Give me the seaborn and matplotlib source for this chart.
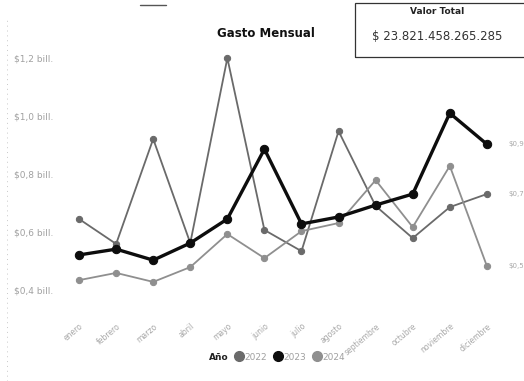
import matplotlib
matplotlib.use("Agg")
import matplotlib.pyplot as plt
from matplotlib.lines import Line2D
from matplotlib.patches import Rectangle
import seaborn as sns
import pandas as pd

# Monthly spend, in billones of pesos
meses = ["enero", "febrero", "marzo", "abril", "mayo", "junio", "julio",
         "agosto", "septiembre", "octubre", "noviembre", "diciembre"]
gasto_2022 = [0.645, 0.559, 0.921, 0.562, 1.200, 0.607, 0.534, 0.948, 0.690, 0.579, 0.686, 0.731]
gasto_2023 = [0.521, 0.541, 0.503, 0.562, 0.645, 0.886, 0.628, 0.652, 0.693, 0.731, 1.010, 0.903]
gasto_2024 = [0.434, 0.459, 0.428, 0.479, 0.593, 0.510, 0.603, 0.631, 0.779, 0.617, 0.828, 0.483]
anios = ["2022", "2023", "2024"]
y_ticks = [0.4, 0.6, 0.8, 1.0, 1.2]
valor_total = "$ 23.821.458.265.285"

series = {"2022": gasto_2022, "2023": gasto_2023, "2024": gasto_2024}
df = pd.DataFrame([
    {"mes": m, "idx": i, "año": a, "gasto": v}
    for a in anios for i, (m, v) in enumerate(zip(meses, series[a]))
])

sns.set_theme(style="white")
plt.rcParams["font.family"] = ["DejaVu Sans"]

colores = {"2022": "#6a6a6a", "2023": "#0d0d0d", "2024": "#8f8f8f"}
grosor = {"2022": 1.3, "2023": 2.4, "2024": 1.3}
marca = {"2022": 4.5, "2023": 6.0, "2024": 4.5}

fig = plt.figure(figsize=(5.24, 3.81), dpi=100)
ax = fig.add_axes([0.1155, 0.1627, 0.849, 0.799])

for a in anios:
    sub = df[df["año"] == a]
    sns.lineplot(data=sub, x="idx", y="gasto", ax=ax, color=colores[a],
                 linewidth=grosor[a], marker="o", markersize=marca[a],
                 markeredgecolor=colores[a], legend=False,
                 zorder=3 if a == "2023" else 2)
    ultimo = sub["gasto"].iloc[-1]
    ax.annotate(f"${ultimo:.1f}".replace(".", ","), xy=(11, ultimo),
                xytext=(15.5, 0), textcoords="offset points",
                fontsize=5, color="#a8a8a8", va="center", ha="left",
                annotation_clip=False)

ax.set_xlim(-0.5, 11.5)
ax.set_ylim(0.3, 1.35)
ax.set_xticks(range(len(meses)))
ax.set_xticklabels(meses, rotation=40, ha="right", rotation_mode="anchor",
                   fontsize=5.5, color="#a8a8a8")
ax.set_yticks(y_ticks)
ax.set_yticklabels([f"${t:.1f} bill.".replace(".", ",", 1) for t in y_ticks],
                   fontsize=6.5, color="#a0a0a0")
ax.tick_params(axis="both", length=0, pad=2)
ax.tick_params(axis="y", pad=5)
ax.set_xlabel("")
ax.set_ylabel("")
for s in ax.spines.values():
    s.set_visible(False)
ax.patch.set_alpha(0)

# Title
fig.text(0.507, 0.913, "Gasto Mensual", ha="center", va="center",
         fontsize=8.5, fontweight="bold", color="#111111")

# Total value card
fig.add_artist(Rectangle((355 / 524, 1 - 57 / 381), 175 / 524, 54 / 381,
                         transform=fig.transFigure, fill=False,
                         edgecolor="#333333", linewidth=0.9))
fig.text(437 / 524, 1 - 12 / 381, "Valor Total", ha="center", va="center",
         fontsize=6.5, fontweight="bold", color="#222222")
fig.text(437 / 524, 1 - 37 / 381, valor_total, ha="center", va="center",
         fontsize=8.5, color="#333333")

# Small header mark and dotted frame edge
fig.add_artist(Line2D([140 / 524, 166 / 524], [1 - 5 / 381, 1 - 5 / 381],
                      transform=fig.transFigure, color="#555555", linewidth=1.0))
fig.add_artist(Line2D([7 / 524, 7 / 524], [0.0, 1 - 20 / 381],
                      transform=fig.transFigure, color="#c8c8c8",
                      linewidth=0.7, linestyle=(0, (1, 4))))

# Legend: bold "Año" heading followed by the year entries on one row
handles = [Line2D([], [], linestyle="none")] + [
    Line2D([], [], marker="o", linestyle="none", markersize=7, color=colores[a])
    for a in anios]
leg = fig.legend(handles, ["Año"] + anios, loc="center",
                 bbox_to_anchor=(272 / 524, 1 - 357 / 381),
                 ncol=4, frameon=False, fontsize=6.5, handletextpad=0.2,
                 handlelength=0.9, columnspacing=0.7, borderpad=0)
texts = leg.get_texts()
texts[0].set_fontweight("bold")
texts[0].set_color("#222222")
for t in texts[1:]:
    t.set_color("#a0a0a0")

fig.savefig("out.png", dpi=100)
